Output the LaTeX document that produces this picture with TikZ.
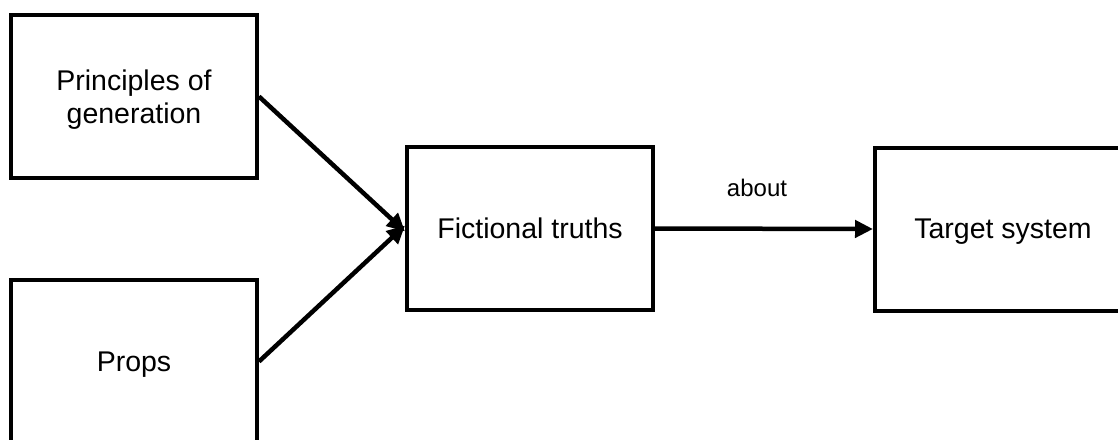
\documentclass[tikz,border=0pt]{standalone}
\usepackage{fontspec}
\setmainfont{Liberation Sans}
\usetikzlibrary{arrows.meta}
\tikzset{
  box/.style={draw=black, line width=4pt, fill=white, inner sep=0pt,
    minimum width=246pt, minimum height=163pt, align=center,
    text depth=0pt, font=\fontsize{28.5}{33}\selectfont},
  link/.style={line width=4.5pt, -{Triangle[length=18pt,width=17pt]}},
  tag/.style={font=\fontsize{24}{28}\selectfont, inner sep=0pt}
}
\begin{document}
\begin{tikzpicture}[x=1pt, y=-1pt]
  \useasboundingbox (0,0) rectangle (1118,439);
  \clip (0,0) rectangle (1118,439);
  \fill[white] (0,0) rectangle (1118,439);

  \node[box] (pg) at (134,96.5) {Principles of\\generation};
  \node[box] (props) at (134,361.5) {Props};
  \node[box] (ft) at (530,228.5) {Fictional truths};
  \node[box, minimum width=256pt] (ts) at (1003,229) {Target system};

  \draw[link] (pg.east) -- ([yshift=-3pt]ft.west);
  \draw[link] (props.east) -- ([yshift=3pt]ft.west);
  \draw[link] (ft.east) -- (ts.west);
  \node[tag] (about) at (757,188) {about};
\end{tikzpicture}
\end{document}
